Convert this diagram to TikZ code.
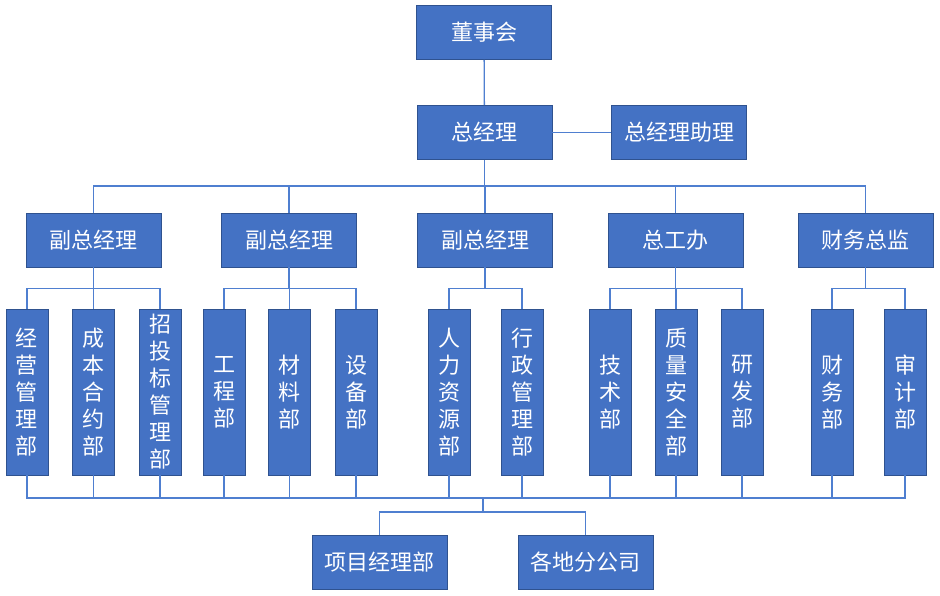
\documentclass[tikz,border=0pt]{standalone}
\usepackage{fontspec}
\newfontfamily\cjk{Noto Sans CJK SC}
\usepackage{tikz}
\usetikzlibrary{calc}

\definecolor{boxblue}{HTML}{4472C4}
\definecolor{boxedge}{HTML}{2F528F}
\definecolor{linkblue}{HTML}{4F7FD0}

\begin{document}
\begin{tikzpicture}[
        x=1pt, y=1pt,
        font=\cjk\fontsize{22}{27}\selectfont,
        unit/.style={draw=boxedge, fill=boxblue, text=white, line width=0.8pt,
            align=center, inner sep=0pt, minimum width=135, minimum height=54},
        dept/.style={unit, minimum width=42, minimum height=166},
        link/.style={draw=linkblue, line width=1.3pt}
    ]
    \useasboundingbox (0,0) rectangle (940,-595);

    % top levels
    \node[unit] (board) at (484,-32.5) {董事会};
    \node[unit] (gm) at (484.5,-132.5) {总经理};
    \node[unit] (gmassist) at (679,-132.5) {总经理助理};

    \node[unit] (vp1) at (93.5,-240) {副总经理};
    \node[unit] (vp2) at (289,-240) {副总经理};
    \node[unit] (vp3) at (485,-240) {副总经理};
    \node[unit] (chief) at (675.5,-240) {总工办};
    \node[unit] (cfo) at (865.5,-240) {财务总监};

    % departments
    \node[dept] (biz) at (27,-392) {经\\营\\管\\理\\部};
    \node[dept] (cost) at (93.5,-392) {成\\本\\合\\约\\部};
    \node[dept] (bid) at (160,-392) {招\\投\\标\\管\\理\\部};
    \node[dept] (eng) at (224,-392) {工\\程\\部};
    \node[dept] (mat) at (289.5,-392) {材\\料\\部};
    \node[dept] (equip) at (356,-392) {设\\备\\部};
    \node[dept] (hr) at (449,-392) {人\\力\\资\\源\\部};
    \node[dept] (admin) at (522,-392) {行\\政\\管\\理\\部};
    \node[dept] (tech) at (610,-392) {技\\术\\部};
    \node[dept] (qs) at (676,-392) {质\\量\\安\\全\\部};
    \node[dept] (rd) at (742,-392) {研\\发\\部};
    \node[dept] (fin) at (832,-392) {财\\务\\部};
    \node[dept] (audit) at (905,-392) {审\\计\\部};

    % bottom level
    \node[unit] (proj) at (379.5,-562) {项目经理部};
    \node[unit] (branch) at (585.5,-562) {各地分公司};
    \coordinate (hub) at (483,-498);

    % connectors
    \draw[link] (board) -- (gm);
    \draw[link] (gm) -- (gmassist);
    \draw[link] (gm.south) -- ++(0,-26) -| (vp1.north);
    \draw[link] (gm.south) -- ++(0,-26) -| (vp2.north);
    \draw[link] (gm.south) -- ++(0,-26) -| (vp3.north);
    \draw[link] (gm.south) -- ++(0,-26) -| (chief.north);
    \draw[link] (gm.south) -- ++(0,-26) -| (cfo.north);

    \draw[link] (vp1.south) -- ++(0,-21) -| (biz.north);
    \draw[link] (vp1.south) -- ++(0,-21) -| (cost.north);
    \draw[link] (vp1.south) -- ++(0,-21) -| (bid.north);
    \draw[link] (vp2.south) -- ++(0,-21) -| (eng.north);
    \draw[link] (vp2.south) -- ++(0,-21) -| (mat.north);
    \draw[link] (vp2.south) -- ++(0,-21) -| (equip.north);
    \draw[link] (vp3.south) -- ++(0,-21) -| (hr.north);
    \draw[link] (vp3.south) -- ++(0,-21) -| (admin.north);
    \draw[link] (chief.south) -- ++(0,-21) -| (tech.north);
    \draw[link] (chief.south) -- ++(0,-21) -| (qs.north);
    \draw[link] (chief.south) -- ++(0,-21) -| (rd.north);
    \draw[link] (cfo.south) -- ++(0,-21) -| (fin.north);
    \draw[link] (cfo.south) -- ++(0,-21) -| (audit.north);

    \draw[link] (biz.south) |- (hub);
    \draw[link] (cost.south) |- (hub);
    \draw[link] (bid.south) |- (hub);
    \draw[link] (eng.south) |- (hub);
    \draw[link] (mat.south) |- (hub);
    \draw[link] (equip.south) |- (hub);
    \draw[link] (hr.south) |- (hub);
    \draw[link] (admin.south) |- (hub);
    \draw[link] (tech.south) |- (hub);
    \draw[link] (qs.south) |- (hub);
    \draw[link] (rd.south) |- (hub);
    \draw[link] (fin.south) |- (hub);
    \draw[link] (audit.south) |- (hub);
    \draw[link] (hub) -- ++(0,-14) -| (proj.north);
    \draw[link] (hub) -- ++(0,-14) -| (branch.north);
\end{tikzpicture}
\end{document}
